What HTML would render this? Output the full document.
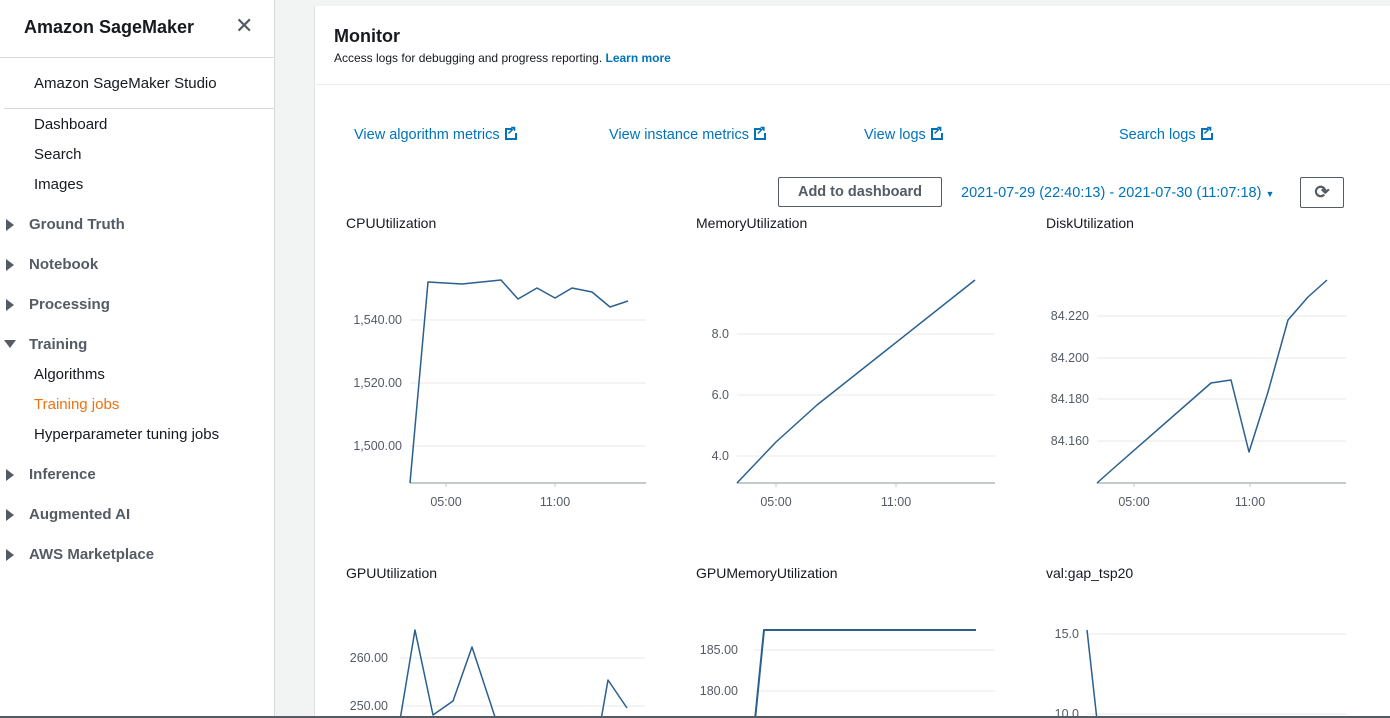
<!DOCTYPE html>
<html><head><meta charset="utf-8"><style>
*{margin:0;padding:0;box-sizing:border-box}
body{width:1390px;height:718px;overflow:hidden;background:#f2f3f3;font-family:"Liberation Sans",sans-serif;color:#16191f;position:relative}
.a{position:absolute;white-space:nowrap}
#side{position:absolute;left:0;top:0;width:275px;height:718px;background:#fff;border-right:1px solid #d5dbdb}
.s{font-size:15px;color:#16191f}
.g{font-size:15px;font-weight:bold;color:#545b64}
.tri{position:absolute;left:6px;width:0;height:0;border-top:6px solid transparent;border-bottom:6px solid transparent;border-left:8px solid #545b64}
#panel{position:absolute;left:314px;top:0;width:1076px;height:718px;background:#fff;border-left:1px solid #e0e0e0}
.lnk{font-size:14.5px;color:#0073bb}
.ext{display:inline-block;width:12px;height:12px;border:2px solid #0073bb;vertical-align:-1px;margin-left:5px;position:relative}
.ext:after{content:"";position:absolute;right:-3px;top:-3px;width:6px;height:6px;background:#fff}
.ext:before{content:"↗";position:absolute;left:0px;top:-7px;font-size:12px;font-weight:bold;color:#0073bb;z-index:2}
.t{font-size:14px;color:#16191f}
</style></head><body>
<div id="side">
<div class="a" style="left:24px;top:17px;font-size:18px;font-weight:bold">Amazon SageMaker</div>
<div class="a" style="left:235px;top:13px;font-size:22px;color:#545b64">✕</div>
<div style="position:absolute;left:0;top:57px;width:274px;border-top:1px solid #d5dbdb"></div>
<div class="a s" style="left:34px;top:75px">Amazon SageMaker Studio</div>
<div style="position:absolute;left:4px;top:108px;width:270px;border-top:1px solid #d5dbdb"></div>
<div class="a s" style="left:34px;top:116px">Dashboard</div>
<div class="a s" style="left:34px;top:146px">Search</div>
<div class="a s" style="left:34px;top:176px">Images</div>
<div class="tri" style="top:219px"></div><div class="a g" style="left:29px;top:216px">Ground Truth</div>
<div class="tri" style="top:259px"></div><div class="a g" style="left:29px;top:256px">Notebook</div>
<div class="tri" style="top:299px"></div><div class="a g" style="left:29px;top:296px">Processing</div>
<div style="position:absolute;left:4px;top:340px;border-left:6px solid transparent;border-right:6px solid transparent;border-top:8px solid #545b64"></div><div class="a g" style="left:29px;top:336px">Training</div>
<div class="a s" style="left:34px;top:366px">Algorithms</div>
<div class="a s" style="left:34px;top:396px;color:#ec7211">Training jobs</div>
<div class="a s" style="left:34px;top:426px">Hyperparameter tuning jobs</div>
<div class="tri" style="top:469px"></div><div class="a g" style="left:29px;top:466px">Inference</div>
<div class="tri" style="top:509px"></div><div class="a g" style="left:29px;top:506px">Augmented AI</div>
<div class="tri" style="top:549px"></div><div class="a g" style="left:29px;top:546px">AWS Marketplace</div>
</div>
<div id="panel"></div>
<div style="position:absolute;left:314px;top:0;width:1076px;height:6px;background:#f2f3f3"></div>
<div style="position:absolute;left:314px;top:84px;width:1076px;border-top:1px solid #eaeded"></div>
<div class="a" style="left:334px;top:26px;font-size:18px;font-weight:bold">Monitor</div>
<div class="a" style="left:334px;top:51px;font-size:12px;color:#16191f">Access logs for debugging and progress reporting. <b style="color:#0073bb">Learn more</b></div>
<div class="a lnk" style="left:354px;top:127px">View algorithm metrics<span class="ext"></span></div>
<div class="a lnk" style="left:609px;top:127px">View instance metrics<span class="ext"></span></div>
<div class="a lnk" style="left:864px;top:127px">View logs<span class="ext"></span></div>
<div class="a lnk" style="left:1119px;top:127px">Search logs<span class="ext"></span></div>
<div class="a" style="left:778px;top:177px;width:164px;height:30px;border:1px solid #545b64;border-radius:2px;font-size:14.5px;font-weight:bold;color:#545b64;text-align:center;line-height:28px">Add to dashboard</div>
<div class="a lnk" style="left:961px;top:185px">2021-07-29 (22:40:13) - 2021-07-30 (11:07:18) <span style="font-size:9px">▼</span></div>
<div class="a" style="left:1300px;top:177px;width:44px;height:31px;border:1px solid #545b64;border-radius:2px;text-align:center;line-height:29px;font-size:18px;font-weight:bold;color:#545b64">⟳</div>
<div class="a t" style="left:346px;top:215px">CPUUtilization</div>
<div class="a t" style="left:696px;top:215px">MemoryUtilization</div>
<div class="a t" style="left:1046px;top:215px">DiskUtilization</div>
<div class="a t" style="left:346px;top:565px">GPUUtilization</div>
<div class="a t" style="left:696px;top:565px">GPUMemoryUtilization</div>
<div class="a t" style="left:1046px;top:565px">val:gap_tsp20</div>
<svg style="position:absolute;left:0;top:0" width="1390" height="718" font-family="Liberation Sans, sans-serif" font-size="12.5" fill="#545b64">
<g stroke="#f0f1f1" stroke-width="1.5">
<path d="M410 320H646M410 383H646M410 446H646"/>
<path d="M737 334H995M737 395H995M737 456H995"/>
<path d="M1097 316H1346M1097 358H1346M1097 399H1346M1097 441H1346"/>
<path d="M400 658H645M400 706H645"/>
<path d="M755 650H995M755 691H995"/>
<path d="M1087 634H1346M1087 714H1346"/>
</g>
<g stroke="#c4c9c9" stroke-width="2"><path d="M410 483H646M737 483H995M1097 483H1346"/></g>
<g stroke="#c4c9c9"><path d="M446 483v4M555 483v4M776 483v4M896 483v4M1134 483v4M1250 483v4"/></g>
<g text-anchor="end">
<text x="402" y="324">1,540.00</text><text x="402" y="387">1,520.00</text><text x="402" y="450">1,500.00</text>
<text x="729" y="338">8.0</text><text x="729" y="399">6.0</text><text x="729" y="460">4.0</text>
<text x="1089" y="320">84.220</text><text x="1089" y="362">84.200</text><text x="1089" y="403">84.180</text><text x="1089" y="445">84.160</text>
<text x="388" y="662">260.00</text><text x="388" y="710">250.00</text>
<text x="738" y="654">185.00</text><text x="738" y="695">180.00</text>
<text x="1079" y="638">15.0</text><text x="1079" y="718">10.0</text>
</g>
<g text-anchor="middle">
<text x="446" y="506">05:00</text><text x="555" y="506">11:00</text>
<text x="776" y="506">05:00</text><text x="896" y="506">11:00</text>
<text x="1134" y="506">05:00</text><text x="1250" y="506">11:00</text>
</g>
<g fill="none" stroke="#2a5f8f" stroke-width="1.5" stroke-linejoin="round">
<polyline points="410,483 428,282 462,284 501,280 518,299 537,288 555,298 572,288 592,292 610,307 628,301"/>
<polyline points="737,483 776,442 817,405 975,280"/>
<polyline points="1097,483 1115,467 1211,383 1231,380 1249,452 1268,392 1288,320 1308,297 1327,280"/>
<polyline points="400,720 415,630 433,715 453,701 472,647 496,720"/>
<polyline points="601,720 608,680 627,708"/>
<polyline points="755,720 764,630 976,630" stroke-width="2"/>
<polyline points="1087,630 1097,720"/>
</g>
<path d="M0 717H1390" stroke="#545b64" stroke-width="2"/>
</svg>
</body></html>
